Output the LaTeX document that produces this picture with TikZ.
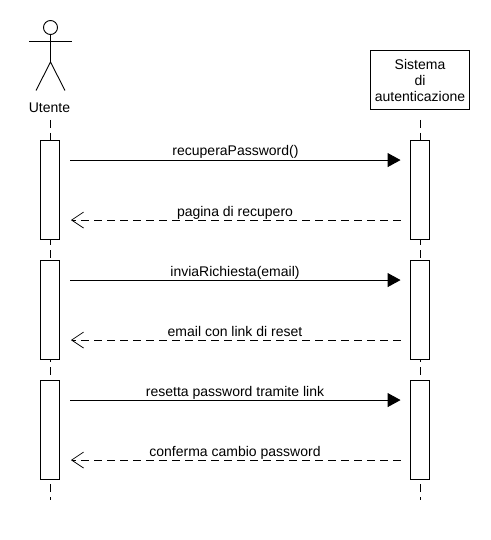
\documentclass[tikz,border=0pt]{standalone}
\usepackage{fontspec}
\setmainfont{Liberation Sans}
\usetikzlibrary{arrows.meta}
\tikzset{
	lifeline/.style={draw=black, line width=0.9pt, dash pattern=on 8pt off 5pt},
	activation/.style={draw=black, fill=white, line width=0.9pt, minimum width=19pt, minimum height=99pt, inner sep=0pt},
	callmsg/.style={draw=black, line width=0.9pt, -{Triangle[length=13pt,width=14pt]}},
	replymsg/.style={draw=black, line width=0.9pt, dash pattern=on 8pt off 5pt, -{Straight Barb[length=12pt,width=16pt,line width=0.7pt]}},
	msglabel/.style={font=\fontsize{14}{16}\selectfont, inner sep=0pt, anchor=base}
}

\begin{document}
\begin{tikzpicture}[x=1pt, y=-1pt]
			%%%%% START %%%%%
			
			\useasboundingbox (0, 0) rectangle (490, 540);
			
			\draw[line width=0.9pt] (50.5, 27.5) circle (7);
			\draw[line width=0.9pt] (50.5, 34.5) -- (50.5, 62);
			\draw[line width=0.9pt] (29, 41) -- (72, 41);
			\draw[line width=0.9pt] (36, 90.5) -- (50.5, 62) -- (65, 90.5);
			\node[msglabel] (utente) at (49.5, 113) {Utente};
			
			\node[draw=black, line width=0.9pt, minimum width=99pt, minimum height=59pt, inner sep=0pt, align=center, font=\fontsize{14}{16}\selectfont] (sistema) at (420, 80) {Sistema\\di\\autenticazione};
			
			\coordinate (utentetop) at (50.5, 120);
			\coordinate (utenteend) at (50.5, 500);
			\coordinate (sistematop) at (420.5, 120);
			\coordinate (sistemaend) at (420.5, 500);
			\draw[lifeline] (utentetop) -- (utenteend);
			\draw[lifeline] (sistematop) -- (sistemaend);
			
			\node[activation] (ubar1) at (50, 190) {};
			\node[activation] (ubar2) at (50, 310) {};
			\node[activation] (ubar3) at (50, 430) {};
			\node[activation] (sbar1) at (420, 190) {};
			\node[activation] (sbar2) at (420, 310) {};
			\node[activation] (sbar3) at (420, 430) {};
			
			\draw[callmsg] ([shift={(10.5, 20)}]ubar1.north east) -- ([shift={(-9.5, 20)}]sbar1.north west);
			\node[msglabel] (recupera) at (235.5, 156) {recuperaPassword()};
			\draw[replymsg] ([shift={(-9.5, 80)}]sbar1.north west) -- ([shift={(11, 80)}]ubar1.north east);
			\node[msglabel] (pagina) at (235, 216) {pagina di recupero};
			
			\draw[callmsg] ([shift={(10.5, 20)}]ubar2.north east) -- ([shift={(-9.5, 20)}]sbar2.north west);
			\node[msglabel] (invia) at (235, 276) {inviaRichiesta(email)};
			\draw[replymsg] ([shift={(-9.5, 80)}]sbar2.north west) -- ([shift={(11, 80)}]ubar2.north east);
			\node[msglabel] (reset) at (235, 336) {email con link di reset};
			
			\draw[callmsg] ([shift={(10.5, 20)}]ubar3.north east) -- ([shift={(-9.5, 20)}]sbar3.north west);
			\node[msglabel] (resetta) at (235, 396) {resetta password tramite link};
			\draw[replymsg] ([shift={(-9.5, 80)}]sbar3.north west) -- ([shift={(11, 80)}]ubar3.north east);
			\node[msglabel] (conferma) at (235, 456) {conferma cambio password};
			
			%%%%% END %%%%%
		\end{tikzpicture}
\end{document}
